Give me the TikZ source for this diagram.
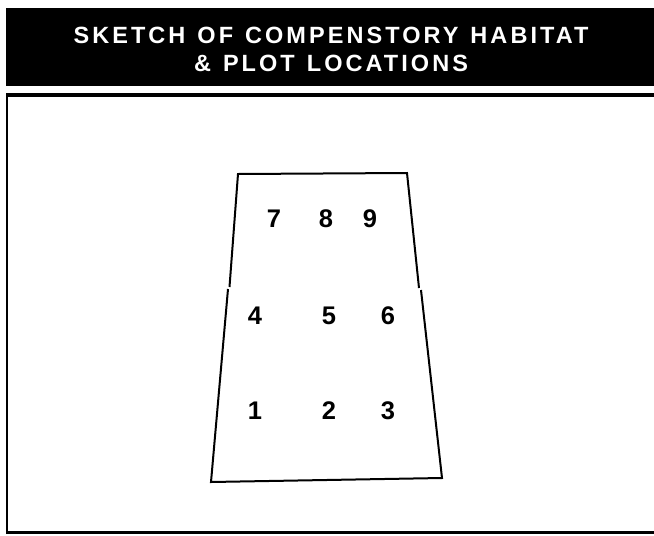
\documentclass[tikz,border=0pt]{standalone}
\usepackage{fontspec}
\setmainfont{Liberation Sans}
\newfontfamily\titlefont[LetterSpace=13]{Liberation Sans}
\newcommand\ttlwords[1]{{\spaceskip=12pt plus 0pt minus 0pt\relax #1}}
\begin{document}
\begin{tikzpicture}[x=1pt,y=-1pt,
  plotnum/.style={font=\fontsize{25.5}{25.5}\selectfont\bfseries, inner sep=0pt, anchor=center},
  edge/.style={line width=2pt, line cap=butt},
  titletext/.style={font=\titlefont\fontsize{23.5}{28}\selectfont\bfseries, text=white, inner sep=0pt, anchor=base}]
\useasboundingbox (0,0) rectangle (654,536);
% title bar
\fill[black] (6,8) rectangle (654,86);
\node[titletext] (title1) at (331,43) {\ttlwords{SKETCH OF COMPENSTORY HABITAT}};
\node[titletext] (title2) at (331,71) {\ttlwords{\& PLOT LOCATIONS}};
% frame
\draw[line width=4pt] (6,94.5) -- (660,94.5);
\draw[line width=2.5pt] (7,93) -- (7,532.5) -- (660,532.5);
% habitat outline
\coordinate (tl) at (238,174);
\coordinate (tr) at (407,173);
\coordinate (lm1) at (229.5,287);
\coordinate (lm2) at (228,289);
\coordinate (rm1) at (419,288);
\coordinate (rm2) at (421,290);
\coordinate (bl) at (211,482);
\coordinate (br) at (442,478);
\draw[edge] (lm1) -- (tl) -- (tr) -- (rm1);
\draw[edge] (lm2) -- (bl) -- (br) -- (rm2);
% plot numbers
\node[plotnum] (p7) at (274,219) {7};
\node[plotnum] (p8) at (326,219) {8};
\node[plotnum] (p9) at (370,219) {9};
\node[plotnum] (p4) at (255,316) {4};
\node[plotnum] (p5) at (329,316) {5};
\node[plotnum] (p6) at (388,316) {6};
\node[plotnum] (p1) at (255,411) {1};
\node[plotnum] (p2) at (329,411) {2};
\node[plotnum] (p3) at (388,411) {3};
\end{tikzpicture}
\end{document}
